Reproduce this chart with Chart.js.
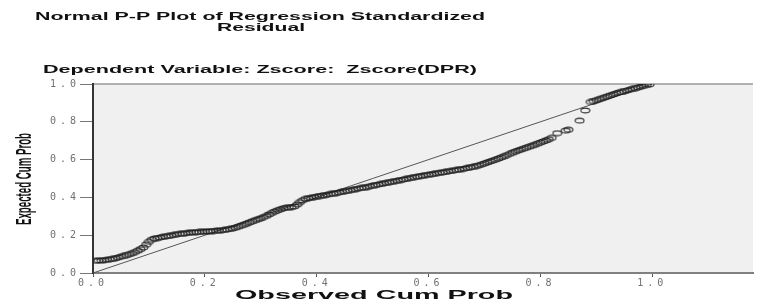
<!DOCTYPE html>
<html>
<head>
<meta charset="utf-8">
<script src="https://cdn.jsdelivr.net/npm/chart.js@4/dist/chart.umd.min.js"></script>
<style>
  body { margin: 0; background: #fff; }
  canvas { display: block; }
</style>
</head>
<body>
<canvas id="ppplot" width="758" height="302"></canvas>
<script>
const titleLines = ['Normal P-P Plot of Regression Standardized', 'Residual']
const subTitle = 'Dependent Variable: Zscore:  Zscore(DPR)'
const xTitle = 'Observed Cum Prob'
const yTitle = 'Expected Cum Prob'

const xTicks = [0.0, 0.2, 0.4, 0.6, 0.8, 1.0]
const yTicks = [0.0, 0.2, 0.4, 0.6, 0.8, 1.0]

// observed cum prob (x) and expected cum prob (y)
const observed = [
  0.005, 0.010, 0.015, 0.020, 0.025, 0.030, 0.035, 0.040, 0.045, 0.050,
  0.055, 0.060, 0.065, 0.070, 0.075, 0.080, 0.085, 0.090, 0.095, 0.100,
  0.105, 0.110, 0.115, 0.120, 0.125, 0.130, 0.135, 0.140, 0.145, 0.150,
  0.155, 0.160, 0.165, 0.170, 0.175, 0.180, 0.185, 0.190, 0.195, 0.200,
  0.205, 0.210, 0.215, 0.220, 0.225, 0.230, 0.235, 0.240, 0.245, 0.250,
  0.255, 0.260, 0.265, 0.270, 0.275, 0.280, 0.285, 0.290, 0.295, 0.300,
  0.305, 0.310, 0.315, 0.320, 0.325, 0.330, 0.335, 0.340, 0.345, 0.350,
  0.355, 0.360, 0.365, 0.370, 0.375, 0.380, 0.385, 0.390, 0.395, 0.400,
  0.405, 0.410, 0.415, 0.420, 0.425, 0.430, 0.435, 0.440, 0.445, 0.450,
  0.455, 0.460, 0.465, 0.470, 0.475, 0.480, 0.485, 0.490, 0.495, 0.500,
  0.505, 0.510, 0.515, 0.520, 0.525, 0.530, 0.535, 0.540, 0.545, 0.550,
  0.555, 0.560, 0.565, 0.570, 0.575, 0.580, 0.585, 0.590, 0.595, 0.600,
  0.605, 0.610, 0.615, 0.620, 0.625, 0.630, 0.635, 0.640, 0.645, 0.650,
  0.655, 0.660, 0.665, 0.670, 0.675, 0.680, 0.685, 0.690, 0.695, 0.700,
  0.705, 0.710, 0.715, 0.720, 0.725, 0.730, 0.735, 0.740, 0.745, 0.750,
  0.755, 0.760, 0.765, 0.770, 0.775, 0.780, 0.785, 0.790, 0.795, 0.800,
  0.805, 0.810, 0.815, 0.820, 0.830, 0.845, 0.850, 0.870, 0.880, 0.890,
  0.895, 0.900, 0.905, 0.910, 0.915, 0.920, 0.925, 0.930, 0.935, 0.940,
  0.945, 0.950, 0.955, 0.960, 0.965, 0.970, 0.975, 0.980, 0.985, 0.990,
  0.995
]
const expected = [
  0.064, 0.066, 0.067, 0.068, 0.070, 0.072, 0.075, 0.078, 0.082, 0.086,
  0.090, 0.095, 0.100, 0.105, 0.111, 0.118, 0.126, 0.135, 0.150, 0.165,
  0.176, 0.182, 0.185, 0.188, 0.191, 0.193, 0.196, 0.198, 0.202, 0.205,
  0.207, 0.208, 0.210, 0.212, 0.214, 0.215, 0.216, 0.217, 0.218, 0.219,
  0.220, 0.221, 0.222, 0.223, 0.224, 0.226, 0.228, 0.230, 0.233, 0.236,
  0.240, 0.245, 0.250, 0.255, 0.261, 0.268, 0.274, 0.280, 0.285, 0.290,
  0.296, 0.302, 0.310, 0.318, 0.325, 0.332, 0.337, 0.342, 0.345, 0.347,
  0.349, 0.352, 0.362, 0.375, 0.385, 0.392, 0.395, 0.398, 0.401, 0.404,
  0.407, 0.410, 0.412, 0.415, 0.418, 0.420, 0.423, 0.426, 0.429, 0.432,
  0.435, 0.438, 0.441, 0.444, 0.447, 0.450, 0.452, 0.455, 0.459, 0.462,
  0.465, 0.468, 0.471, 0.474, 0.477, 0.480, 0.483, 0.486, 0.489, 0.492,
  0.495, 0.498, 0.501, 0.504, 0.507, 0.510, 0.512, 0.515, 0.518, 0.520,
  0.522, 0.525, 0.528, 0.530, 0.532, 0.535, 0.538, 0.540, 0.542, 0.545,
  0.548, 0.550, 0.553, 0.556, 0.559, 0.562, 0.566, 0.570, 0.575, 0.580,
  0.585, 0.590, 0.595, 0.600, 0.606, 0.612, 0.618, 0.624, 0.630, 0.636,
  0.642, 0.648, 0.653, 0.658, 0.663, 0.668, 0.673, 0.678, 0.684, 0.690,
  0.696, 0.702, 0.708, 0.715, 0.740, 0.753, 0.758, 0.806, 0.860, 0.905,
  0.910, 0.915, 0.920, 0.925, 0.930, 0.935, 0.940, 0.945, 0.950, 0.955,
  0.958, 0.962, 0.966, 0.970, 0.974, 0.978, 0.982, 0.986, 0.990, 0.995,
  0.998
]
const diagonal = [{ x: 0, y: 0 }, { x: 1, y: 1 }]

// small open ellipse used as point marker
function makeMarker() {
  const c = document.createElement('canvas')
  c.width = 11
  c.height = 7
  const g = c.getContext('2d')
  g.strokeStyle = 'rgba(30,30,30,0.9)'
  g.lineWidth = 1.1
  g.beginPath()
  g.ellipse(5.5, 3.5, 4.5, 2.4, 0, 0, Math.PI * 2)
  g.stroke()
  return c
}

// draws bold text stretched/squeezed to a given width
function stretchText(ctx, text, cx, cy, width, size, rotate) {
  ctx.save()
  ctx.letterSpacing = '0px'
  ctx.font = 'bold ' + size + 'px "Liberation Sans", Arial, sans-serif'
  ctx.fillStyle = '#111'
  ctx.textAlign = 'center'
  ctx.textBaseline = 'middle'
  const w = ctx.measureText(text).width
  ctx.translate(cx, cy)
  if (rotate) ctx.rotate(-Math.PI / 2)
  ctx.scale(width / w, 1)
  ctx.fillText(text, 0, 0)
  ctx.restore()
}

const frame = {
  id: 'frame',
  beforeDraw(chart) {
    const { ctx, chartArea: a } = chart
    ctx.save()
    ctx.fillStyle = '#f0f0f0'
    ctx.fillRect(a.left, a.top, a.right - a.left, a.bottom - a.top)
    ctx.strokeStyle = '#9a9a9a'
    ctx.lineWidth = 1.5
    ctx.beginPath()
    ctx.moveTo(a.left, a.top)
    ctx.lineTo(a.right, a.top)
    ctx.stroke()
    ctx.restore()
    ctx.letterSpacing = '4px'
  },
  afterDraw(chart) {
    const ctx = chart.ctx
    stretchText(ctx, titleLines[0], 260, 17, 450, 11)
    stretchText(ctx, titleLines[1], 261, 28, 88, 11)
    stretchText(ctx, subTitle, 260, 70, 434, 11)
    stretchText(ctx, xTitle, 374, 296, 278, 12)
    stretchText(ctx, yTitle, 25, 179, 92, 22, true)
  }
}

const tickFont = { family: '"DejaVu Sans Mono", monospace', size: 10 }

new Chart(document.getElementById('ppplot').getContext('2d'), {
  type: 'scatter',
  data: {
    datasets: [
      {
        data: observed.map((x, i) => ({ x: x, y: expected[i] })),
        pointStyle: makeMarker(),
        pointRadius: 4,
        pointHoverRadius: 4
      },
      {
        type: 'line',
        data: diagonal,
        borderColor: '#555',
        borderWidth: 1,
        pointRadius: 0,
        fill: false
      }
    ]
  },
  options: {
    responsive: false,
    animation: false,
    layout: { padding: { top: 84, right: 3, left: 0, bottom: 0 } },
    plugins: {
      legend: { display: false },
      tooltip: { enabled: false }
    },
    scales: {
      x: {
        type: 'linear',
        min: 0,
        max: 1.18,
        afterFit(scale) { scale.height = 29 },
        afterBuildTicks(scale) { scale.ticks = xTicks.map(v => ({ value: v })) },
        border: { color: '#808080', width: 2 },
        grid: { drawOnChartArea: false, tickLength: 4, color: '#555' },
        ticks: {
          color: '#707070',
          font: tickFont,
          padding: 0,
          maxRotation: 0,
          callback: v => v.toFixed(1)
        }
      },
      y: {
        type: 'linear',
        min: 0,
        max: 1,
        afterFit(scale) { scale.width = 93 },
        afterBuildTicks(scale) { scale.ticks = yTicks.map(v => ({ value: v })) },
        border: { color: '#333', width: 2 },
        grid: { drawOnChartArea: false, tickLength: 13, color: '#777' },
        ticks: {
          color: '#707070',
          font: tickFont,
          padding: 0,
          callback: v => v.toFixed(1)
        }
      }
    }
  },
  plugins: [frame]
})
</script>
</body>
</html>
